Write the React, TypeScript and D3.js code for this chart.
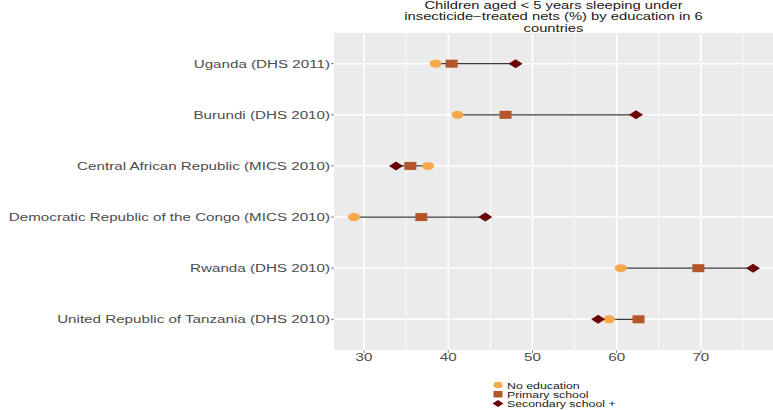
import React from 'react';
import * as d3 from 'd3';

const countries = [
  'Uganda (DHS 2011)',
  'Burundi (DHS 2010)',
  'Central African Republic (MICS 2010)',
  'Democratic Republic of the Congo (MICS 2010)',
  'Rwanda (DHS 2010)',
  'United Republic of Tanzania (DHS 2010)',
];
const noEducation = [38.5, 41.1, 37.6, 28.8, 60.5, 59.1];
const primarySchool = [40.4, 46.8, 35.5, 36.8, 69.7, 62.6];
const secondarySchool = [48.0, 62.3, 33.8, 44.4, 76.2, 57.8];
const xTicks = [30, 40, 50, 60, 70];
const titleLines = [
  'Children aged < 5 years sleeping under',
  'insecticide\u2212treated nets (%) by education in 6',
  'countries',
];
const legendLabels = ['No education', 'Primary school', 'Secondary school +'];

const colors = ['#F6A94B', '#B5562A', '#6A0404'];
const font = '"Liberation Sans", Arial, sans-serif';

const W = 773;
const H = 410;
const panel = { left: 334, right: 773, top: 33, bottom: 350 };

const marker = (kind: number, cx: number, cy: number, w: number, h: number, fill: string) => {
  if (kind === 0) return <ellipse cx={cx} cy={cy} rx={w / 2} ry={h / 2} fill={fill} />;
  if (kind === 1) return <rect x={cx - w / 2} y={cy - h / 2} width={w} height={h} fill={fill} />;
  const p = `M${cx - w / 2},${cy}L${cx},${cy - h / 2}L${cx + w / 2},${cy}L${cx},${cy + h / 2}Z`;
  return <path d={p} fill={fill} />;
};

// the original picture is stretched sideways, so text gets a horizontal scale
const Label: React.FC<{ x: number; y: number; size: number; anchor: string; fill: string; sx?: number; children: React.ReactNode }> = ({ x, y, size, anchor, fill, sx = 1.3, children }) => (
  <text
    transform={`translate(${x},${y}) scale(${sx},1)`}
    fontSize={size}
    textAnchor={anchor}
    fill={fill}
    fontFamily={font}
  >
    {children}
  </text>
);

const App: React.FC = () => {
  const allValues = [...noEducation, ...primarySchool, ...secondarySchool];
  const [lo, hi] = d3.extent(allValues) as [number, number];
  const pad = (hi - lo) * 0.05;
  const x = d3.scaleLinear().domain([lo - pad, hi + pad]).range([panel.left, panel.right]);
  const y = d3.scalePoint<string>().domain(countries).range([panel.top, panel.bottom]).padding(0.6);

  const minorTicks = xTicks.map((t) => t - 5).concat([xTicks[xTicks.length - 1] + 5]);
  const series = [noEducation, primarySchool, secondarySchool];
  const sizes = [
    [12, 8],
    [12, 8],
    [14, 9],
  ];

  return (
    <svg width={W} height={H} style={{ position: 'absolute', left: 0, top: 0 }}>
      <rect x={0} y={0} width={W} height={H} fill="#fff" />
      {titleLines.map((t, i) => (
        <Label key={t} x={(panel.left + panel.right) / 2} y={9.3 + i * 11.1} size={10.2} sx={1.45} anchor="middle" fill="#1a1a1a">
          {t}
        </Label>
      ))}
      <rect
        x={panel.left}
        y={panel.top}
        width={panel.right - panel.left}
        height={panel.bottom - panel.top}
        fill="#EBEBEB"
      />
      {minorTicks.map((t) => (
        <line key={'m' + t} x1={x(t)} x2={x(t)} y1={panel.top} y2={panel.bottom} stroke="#fff" strokeWidth={0.8} />
      ))}
      {xTicks.map((t) => (
        <line key={'g' + t} x1={x(t)} x2={x(t)} y1={panel.top} y2={panel.bottom} stroke="#fff" strokeWidth={1.6} />
      ))}
      {countries.map((c) => (
        <line key={'h' + c} x1={panel.left} x2={panel.right} y1={y(c)} y2={y(c)} stroke="#fff" strokeWidth={1.6} />
      ))}
      {countries.map((c, i) => {
        const vals = [noEducation[i], primarySchool[i], secondarySchool[i]];
        return (
          <line
            key={'r' + c}
            x1={x(d3.min(vals) as number)}
            x2={x(d3.max(vals) as number)}
            y1={y(c)}
            y2={y(c)}
            stroke="#3a3a3a"
            strokeWidth={1.3}
          />
        );
      })}
      {series.map((s, k) =>
        countries.map((c, i) => (
          <g key={k + c}>{marker(k, x(s[i]), y(c) as number, sizes[k][0], sizes[k][1], colors[k])}</g>
        ))
      )}
      {countries.map((c) => (
        <g key={'yl' + c}>
          <line x1={panel.left - 3} x2={panel.left} y1={y(c)} y2={y(c)} stroke="#333" strokeWidth={0.6} />
          <Label x={panel.left - 4} y={(y(c) as number) + 4} size={11.5} sx={1.32} anchor="end" fill="#4d4d4d">
            {c}
          </Label>
        </g>
      ))}
      {xTicks.map((t) => (
        <g key={'xl' + t}>
          <line x1={x(t)} x2={x(t)} y1={panel.bottom} y2={panel.bottom + 3} stroke="#333" strokeWidth={0.6} />
          <Label x={x(t)} y={panel.bottom + 11} size={11} sx={1.38} anchor="middle" fill="#4d4d4d">
            {t}
          </Label>
        </g>
      ))}
      {legendLabels.map((l, k) => (
        <g key={l}>
          {marker(k, 498, 385 + k * 9.2, k === 2 ? 11 : 9, k === 2 ? 7 : 6.5, colors[k])}
          <Label x={507} y={388.5 + k * 9.2} size={9.5} anchor="start" fill="#1a1a1a">
            {l}
          </Label>
        </g>
      ))}
    </svg>
  );
};

export default App;
